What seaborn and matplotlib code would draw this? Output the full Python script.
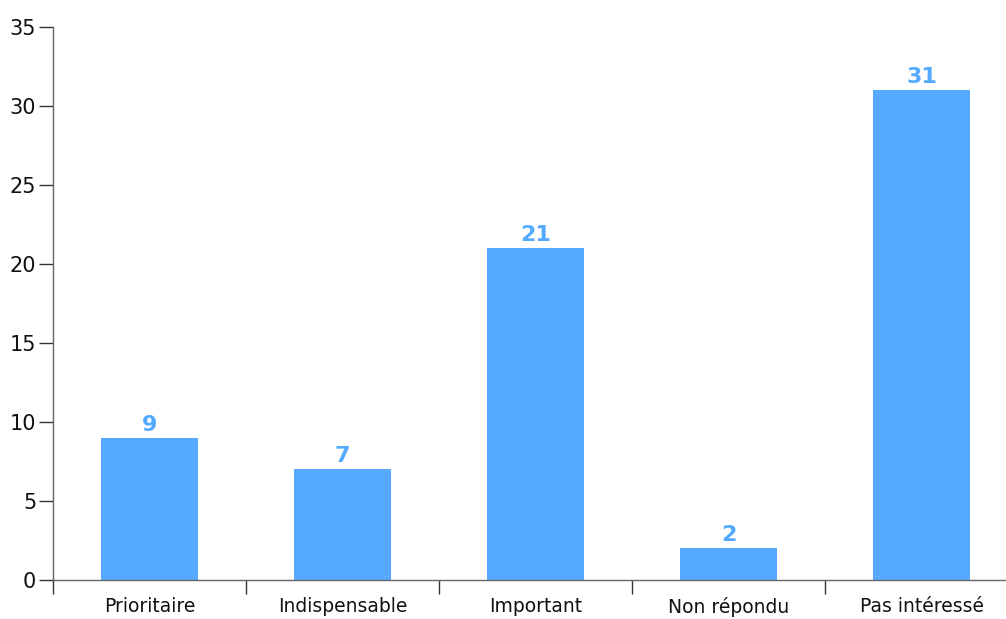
import numpy as np
import pandas as pd
import seaborn as sns
import matplotlib.pyplot as plt

# Données du graphique
categories = ["Prioritaire", "Indispensable", "Important", "Non répondu", "Pas intéressé"]
valeurs = [9, 7, 21, 2, 31]
yticks = [0, 5, 10, 15, 20, 25, 30, 35]

df = pd.DataFrame({"categorie": categories, "valeur": valeurs})

sns.set_style("white")
plt.rcParams["font.family"] = ["DejaVu Sans"]

bleu = "#55aaff"

fig = plt.figure(figsize=(10.06, 6.19), dpi=100)
ax = fig.add_axes([53 / 1006, 39 / 619, 965 / 1006, 553 / 619])

sns.barplot(data=df, x="categorie", y="valeur", color=bleu, width=0.5,
            saturation=1, linewidth=0, ax=ax)

for i, v in enumerate(valeurs):
    ax.text(i, v + 0.2, str(v), ha="center", va="bottom", color=bleu,
            fontsize=16, fontweight="bold")

ax.set_xlim(-0.5, 4.5)
ax.set_ylim(0, 35)
ax.set_yticks(yticks)
ax.set_xlabel("")
ax.set_ylabel("")

# ticks aux limites des catégories
ax.set_xticks(np.arange(-0.5, 5, 1), minor=True)
ax.tick_params(axis="x", which="major", bottom=False, length=0, labelsize=13.5,
               pad=12, labelcolor="#111111")
ax.tick_params(axis="x", which="minor", bottom=True, length=10, width=1,
               color="#333333", direction="out")
ax.tick_params(axis="y", which="major", left=True, length=10, width=1,
               color="#333333", direction="out", labelsize=15, pad=2,
               labelcolor="#111111")

sns.despine(ax=ax, top=True, right=True)
for s in ["left", "bottom"]:
    ax.spines[s].set_color("#666666")
    ax.spines[s].set_linewidth(1)

fig.savefig("out.png", dpi=100)
